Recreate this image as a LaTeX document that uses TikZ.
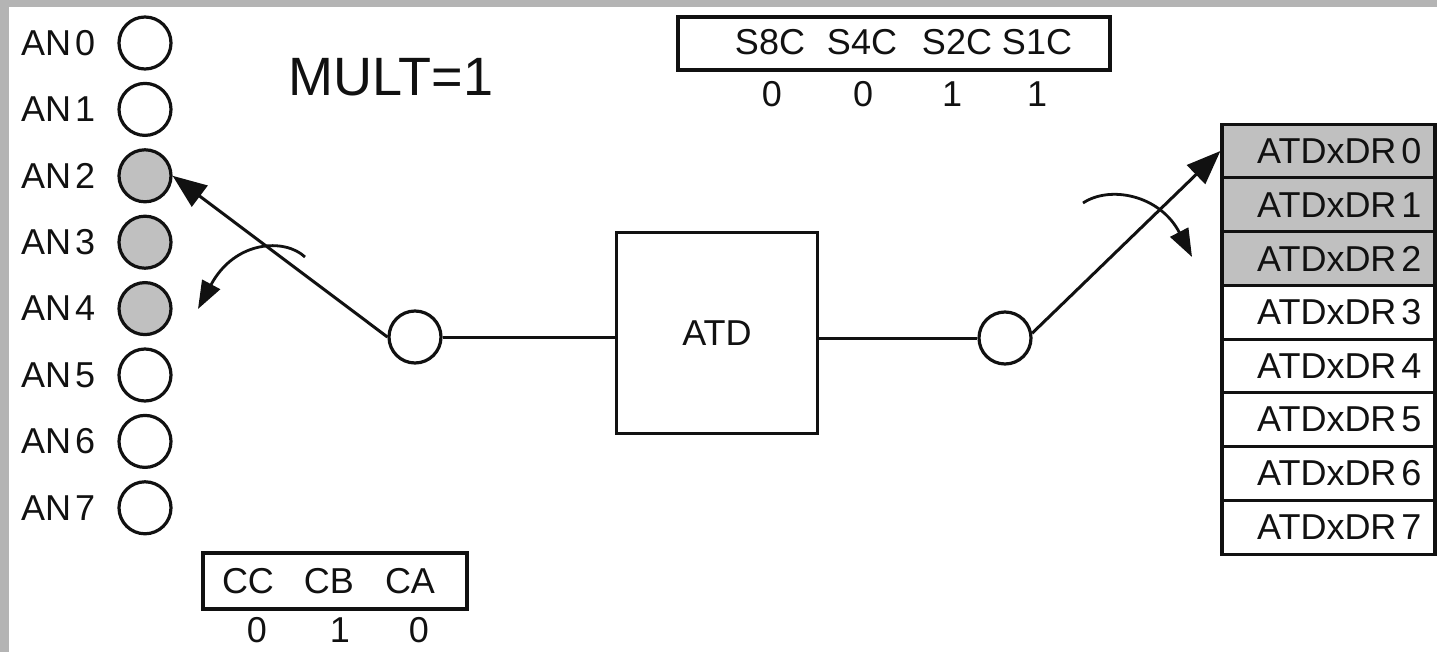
\documentclass[tikz,border=0pt]{standalone}
\usepackage{fontspec}
\setmainfont{Liberation Sans}
\usetikzlibrary{arrows.meta,positioning}
\definecolor{adcInk}{HTML}{111111}
\definecolor{adcFill}{HTML}{C0C0C0}
\definecolor{adcFrame}{HTML}{B4B4B4}
\tikzset{
  every picture/.style={font=\fontsize{36}{43}\selectfont, text=adcInk},
  adc pin/.style={circle, draw=adcInk, line width=3.2pt, minimum size=52pt,
    inner sep=0pt, fill=white},
  adc label/.style={inner sep=0pt},
  adc box/.style={draw=adcInk, line width=3.2pt, inner sep=0pt, fill=white},
  adc reg/.style={draw=adcInk, line width=3.2pt, minimum width=213pt,
    minimum height=53.75pt, inner sep=0pt, text width=186pt, align=right},
  adc wire/.style={draw=adcInk, line width=3pt},
  adc arm/.style={adc wire, -{Triangle[length=34pt,width=26pt]}},
  adc turn/.style={draw=adcInk, line width=2.8pt,
    -{Triangle[length=28pt,width=20pt]}}
}
\begin{document}
\begin{tikzpicture}[x=1pt,y=-1pt]
  \useasboundingbox (0,0) rectangle (1437,652);
  \fill[adcFrame] (0,0) rectangle (1437,7);
  \fill[adcFrame] (0,0) rectangle (9,652);
  % analog inputs
  \foreach \i/\f in {0/white,1/white,2/adcFill,3/adcFill,4/adcFill,5/white,6/white,7/white} {
    \node[adc pin, fill=\f] (an\i) at (145,43+66.4*\i) {};
    \node[adc label, left=22pt of an\i] (lab\i) {AN\kern4pt\i};
  }
  \node[adc label, font=\fontsize{54}{64}\selectfont] (mult) at (391,77) {MULT=1};
  % conversion sequence bits
  \node[adc box, minimum width=432pt, minimum height=53pt] (seq) at (894,43.5) {};
  \foreach \n/\x/\xv/\v in {S8C/770/772/0, S4C/862/863/0, S2C/957/952/1, S1C/1037/1037/1} {
    \node[adc label] (\n) at (\x,42) {\n};
    \node[adc label] (\n-v) at (\xv,94) {\v};
  }
  % channel select bits
  \node[adc box, minimum width=264pt, minimum height=56pt] (chan) at (335,581) {};
  \foreach \n/\x/\xv/\v in {CC/248/257/0, CB/329/340/1, CA/410/419/0} {
    \node[adc label] (\n) at (\x,581) {\n};
    \node[adc label] (\n-v) at (\xv,630) {\v};
  }
  % converter and switches
  \node[adc box, minimum size=201pt] (atd) at (717,333) {ATD};
  \node[adc pin] (swin) at (415,337) {};
  \node[adc pin] (swout) at (1005,338) {};
  \draw[adc wire] (swin.east) -- (swin.east -| atd.west);
  \draw[adc wire] (atd.east |- swout.west) -- (swout.west);
  \draw[adc arm] (swin.west) -- (an2.east);
  % result registers
  \foreach \i/\f in {0/adcFill,1/adcFill,2/adcFill,3/white,4/white,5/white,6/white,7/white}
    \node[adc reg, fill=\f] (dr\i) at (1328.5,151+53.75*\i) {ATDxDR\kern5pt\i};
  \draw[adc arm] (swout.10) -- (dr0.west);
  % rotation hints
  \coordinate (turnin a) at (305,257);
  \coordinate (turnin b) at (198,309);
  \coordinate (turnout a) at (1083,203);
  \coordinate (turnout b) at (1192,257);
  \draw[adc turn] (turnin a) .. controls (285,238) and (235,240) .. (turnin b);
  \draw[adc turn] (turnout a) .. controls (1110,185) and (1160,195) .. (turnout b);
\end{tikzpicture}
\end{document}
